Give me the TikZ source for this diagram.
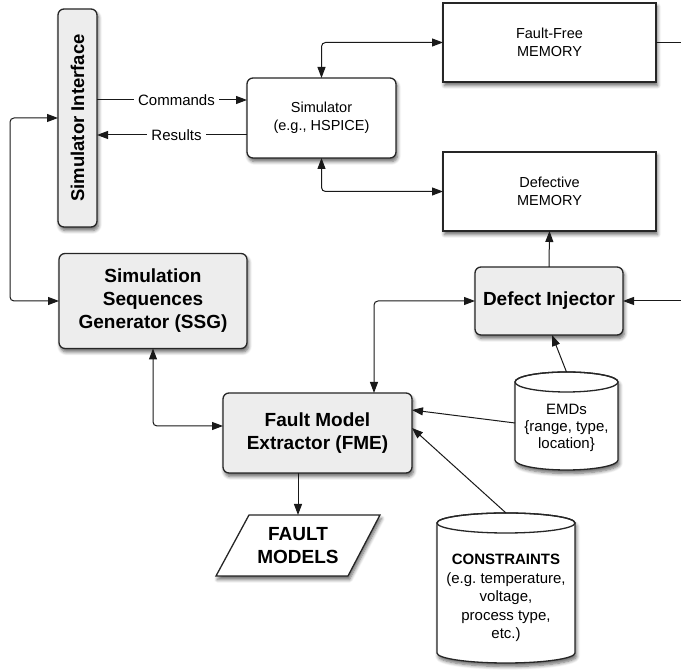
\documentclass[tikz,border=0pt]{standalone}
\usepackage{fontspec}
\setmainfont{Liberation Sans}
\usepackage{graphicx}
\usetikzlibrary{arrows.meta,shadows.blur,calc}
\frenchspacing
\begin{document}
\begin{tikzpicture}[x=1pt,y=1pt,
  every node/.style={inner sep=0pt, outer sep=0pt},
  base/.style={draw=black!85, line width=1.3pt,
    blur shadow={shadow xshift=1.5pt, shadow yshift=-3.5pt, shadow blur steps=6, shadow blur radius=3.5pt, shadow opacity=60}},
  gbox/.style={base, rounded corners=6pt, fill=black!7},
  wround/.style={base, rounded corners=6pt, fill=white},
  mem/.style={base, fill=white},
  txt/.style={font=\fontsize{14.5}{18}\selectfont, align=center},
  btxt/.style={font=\fontsize{19}{23}\selectfont\bfseries, align=center},
  conn/.style={line width=1pt, draw=black!90},
  ar/.style={conn, -{Triangle[length=11pt,width=8pt]}},
  ral/.style={conn, {Triangle[length=11pt,width=8pt]}-},
  dar/.style={conn, {Triangle[length=11pt,width=8pt]}-{Triangle[length=11pt,width=8pt]}},
  lbl/.style={font=\fontsize{15}{18}\selectfont, fill=white, inner sep=4pt}
]
\useasboundingbox (0,0) rectangle (681,671);

% boxes
\node[gbox, minimum width=39, minimum height=218] (si) at (77.5,553)
  {\rotatebox{90}{\fontsize{18.5}{22}\selectfont\bfseries Simulator Interface}};
\node[wround, txt, minimum width=149, minimum height=80] (sim) at (321.5,553)
  {Simulator\\(e.g., HSPICE)};
\node[mem, txt, minimum width=213, minimum height=79] (ff) at (549.5,628.5)
  {Fault-Free\\MEMORY};
\node[mem, txt, minimum width=213, minimum height=79] (def) at (549.5,479.5)
  {Defective\\MEMORY};
\node[gbox, btxt, minimum width=148, minimum height=68] (di) at (549,370)
  {Defect Injector};
\node[gbox, btxt, minimum width=188, minimum height=95] (ssg) at (153,370)
  {Simulation\\Sequences\\Generator (SSG)};
\node[gbox, btxt, minimum width=189, minimum height=80] (fme) at (317.5,238)
  {Fault Model\\Extractor (FME)};

% fault models parallelogram
\path[base, fill=white] (249,156) -- (380,156) -- (348,95) -- (216,95) -- cycle;
\node[btxt, minimum width=100, minimum height=61] (fm) at (298,125.5) {FAULT\\MODELS};

% EMDs cylinder
\path[base, fill=white] (515,289) -- (515,211)
  arc[start angle=180, end angle=360, x radius=51.5pt, y radius=10pt]
  -- (618,289)
  arc[start angle=0, end angle=180, x radius=51.5pt, y radius=10pt] -- cycle;
\draw[draw=black!85, line width=1.3pt] (566.5,289) ellipse[x radius=51.5pt, y radius=10pt];
\node[txt, font=\fontsize{15}{17}\selectfont] (emd) at (566.5,243) {EMDs\\\{range, type,\\location\}};
\coordinate (emdtop) at (566.5,299);
\coordinate (emdleft) at (515,248);

% CONSTRAINTS cylinder
\path[base, fill=white] (437,148) -- (437,18)
  arc[start angle=180, end angle=360, x radius=69pt, y radius=10pt]
  -- (575,148)
  arc[start angle=0, end angle=180, x radius=69pt, y radius=10pt] -- cycle;
\draw[draw=black!85, line width=1.3pt] (506,148) ellipse[x radius=69pt, y radius=10pt];
\node[txt, font=\fontsize{15}{18.5}\selectfont] (con) at (506,73)
  {{\bfseries CONSTRAINTS}\\(e.g. temperature,\\voltage,\\process type,\\etc.)};
\coordinate (contop) at (506,158);

% free ends on the right edge
\coordinate (ffout) at (681,628.5);
\coordinate (diin) at (681,370);

% connectors
\draw[ar] ([yshift=18pt]si.east) -- node[lbl, pos=0.53] {Commands} ([yshift=18pt]sim.west);
\draw[ral] ([yshift=-17pt]si.east) -- node[lbl, pos=0.53] {Results} ([yshift=-17pt]sim.west);
\draw[dar] (sim.north) [rounded corners=4pt] |- (ff.west);
\draw[dar] (sim.south) [rounded corners=4pt] |- (def.west);
\draw[conn] (ff.east) -- (ffout);
\draw[ar] (diin) -- (di.east);
\draw[ar] (di.north) -- (def.south);
\draw[dar] (di.west) [rounded corners=4pt] -| ([xshift=56.5pt]fme.north);
\draw[ar] (emdtop) -- ([xshift=3pt]di.south);
\draw[ar] (emdleft) -- ([yshift=23pt]fme.east);
\draw[ar] (contop) -- ([yshift=5pt]fme.east);
\draw[dar] (ssg.south) [rounded corners=4pt] |- ([yshift=7pt]fme.west);
\draw[dar] (ssg.west) [rounded corners=4pt] -- ++(-49,0) |- (si.west);
\draw[ar] (fme.south -| fm.north) -- (fm.north);
\end{tikzpicture}
\end{document}
